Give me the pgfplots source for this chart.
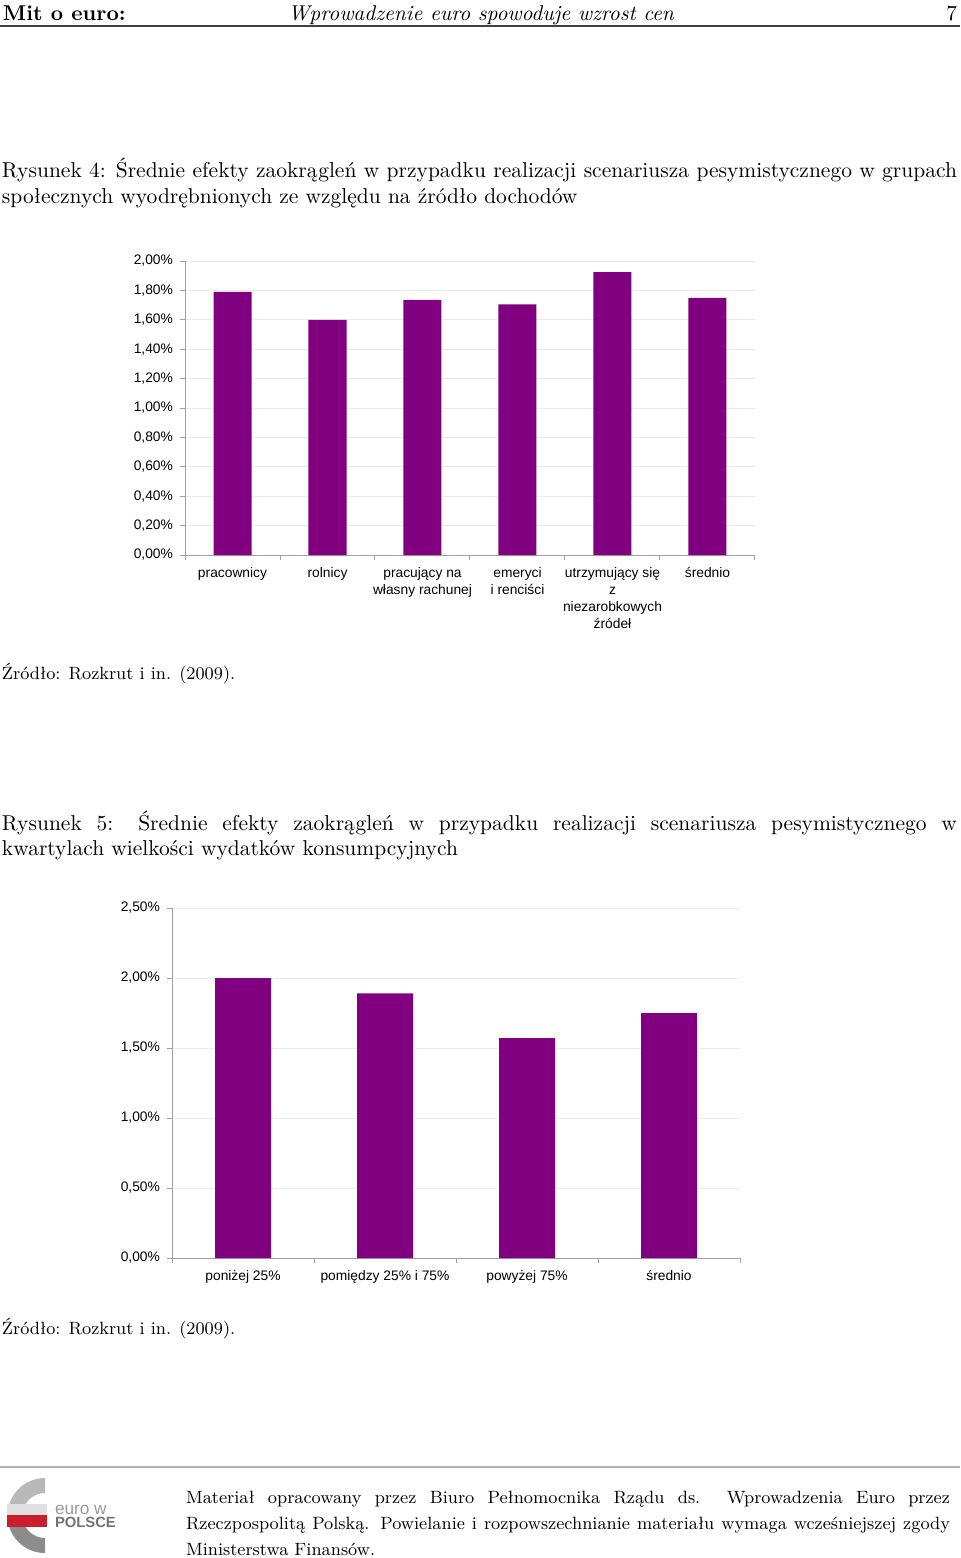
\documentclass[border=0pt]{standalone}
\usepackage{fontspec}
\usepackage{pgfplots}
\pgfplotsset{compat=1.18}
\newfontfamily\chartfont{Liberation Sans}
\definecolor{barpurple}{RGB}{128,0,128}
\definecolor{axisgray}{RGB}{160,160,160}
\definecolor{gridgray}{RGB}{235,235,235}
\definecolor{logored}{RGB}{200,30,45}

\newcommand{\capfont}{\fontsize{10.75}{12}\selectfont}
\newcommand{\smallfont}{\fontsize{8.9}{10}\selectfont}
\newcommand{\headfont}{\fontsize{10.7}{12}\selectfont}
\newcommand{\chartsize}{\fontsize{6.9}{8.5}\selectfont}

\pgfplotsset{
  purplebars/.style={
    scale only axis,
    ybar, bar shift=0pt,
    axis x line*=bottom, axis y line*=left,
    axis line style={axisgray, line width=0.5pt, -},
    ymin=0,
    ymajorgrids, grid style={gridgray, line width=0.5pt},
    tick align=outside, major tick length=2.5pt,
    tick style={axisgray, line width=0.5pt},
    x tick label as interval,
    /pgf/number format/assume math mode=true,
    yticklabel={\pgfmathprintnumber[fixed,fixed zerofill,precision=2,use comma]{\tick}\%},
    tick label style={font=\chartfont\chartsize, text=black},
    xticklabel style={align=center},
  }
}

\begin{document}
\begin{tikzpicture}[x=0.5pt,y=0.5pt,txt/.style={inner sep=0pt,outer sep=0pt}]
\useasboundingbox (0,0) rectangle (960,-1558);

% header
\node[txt, anchor=base west, font=\headfont\bfseries] at (3,-20) {Mit o euro:};
\node[txt, anchor=base, font=\headfont\itshape] at (481,-20) {Wprowadzenie euro spowoduje wzrost cen};
\node[txt, anchor=base east, font=\headfont] at (957,-20) {7};
\draw[line width=0.8pt, black!75] (0,-26) -- (960,-26);

% figure 4
\node[txt, anchor=base west, font=\capfont] at (2,-177)
  {\makebox[477.5pt][s]{Rysunek 4: Średnie efekty zaokrągleń w przypadku realizacji scenariusza pesymistycznego w grupach}};
\node[txt, anchor=base west, font=\capfont] at (2,-203)
  {społecznych wyodrębnionych ze względu na źródło dochodów};

\begin{axis}[purplebars, at={(92.5pt,-277.5pt)}, anchor=south west,
  width=285pt, height=147pt, bar width=19pt,
  xmin=-0.5, xmax=5.5, ymax=2.0, ytick distance=0.2,
  xtick={-0.5,0.5,...,5.5},
  xticklabels={pracownicy, rolnicy, {pracujący na\\własny rachunej}, {emeryci\\i renciści},
    {utrzymujący się\\z\\niezarobkowych\\źródeł}, średnio}]
\addplot[fill=barpurple, draw=none] coordinates {(0,1.79)(1,1.60)(2,1.735)(3,1.705)(4,1.925)(5,1.75)};
\end{axis}

\node[txt, anchor=base west, font=\smallfont] at (2,-679) {Źródło: Rozkrut i in. (2009).};

% figure 5
\node[txt, anchor=base west, font=\capfont] at (2,-830)
  {\makebox[477.5pt][s]{Rysunek 5: Średnie efekty zaokrągleń w przypadku realizacji scenariusza pesymistycznego w}};
\node[txt, anchor=base west, font=\capfont] at (2,-855)
  {kwartylach wielkości wydatków konsumpcyjnych};

\begin{axis}[purplebars, at={(86pt,-629pt)}, anchor=south west,
  width=284pt, height=175pt, bar width=28pt,
  xmin=-0.5, xmax=3.5, ymax=2.5, ytick distance=0.5,
  xtick={-0.5,0.5,...,3.5},
  xticklabels={poniżej 25\%, pomiędzy 25\% i 75\%, powyżej 75\%, średnio}]
\addplot[fill=barpurple, draw=none] coordinates {(0,2.00)(1,1.89)(2,1.57)(3,1.75)};
\end{axis}

\node[txt, anchor=base west, font=\smallfont] at (2,-1334) {Źródło: Rozkrut i in. (2009).};

% footer
\draw[line width=0.6pt, black!30] (0,-1467) -- (960,-1467);
\begin{scope}
\clip (0,-1478) rectangle (50,-1515);
\fill[black!28] (45,-1478) arc[start angle=90,end angle=270,radius=37.5] -- ++(0,15)
  arc[start angle=270,end angle=90,radius=22.5] -- cycle;
\end{scope}
\begin{scope}
\clip (0,-1515) rectangle (50,-1560);
\fill[black!45] (45,-1478) arc[start angle=90,end angle=270,radius=37.5] -- ++(0,15)
  arc[start angle=270,end angle=90,radius=22.5] -- cycle;
\end{scope}
\fill[black!12] (7,-1504) rectangle (47,-1514.5);
\fill[logored] (7,-1514.5) rectangle (47,-1527);
\node[txt, anchor=base west, font=\chartfont\fontsize{8.6}{9}\selectfont, text=black!40] at (55,-1514) {euro w};
\node[txt, anchor=base west, font=\chartfont\bfseries\fontsize{7.4}{8}\selectfont, text=black!55] at (55,-1527) {POLSCE};

\node[txt, anchor=base west, font=\smallfont] at (186,-1503)
  {\makebox[382pt][s]{Materiał opracowany przez Biuro Pełnomocnika Rządu ds.\ \ Wprowadzenia Euro przez}};
\node[txt, anchor=base west, font=\smallfont] at (186,-1529)
  {\makebox[382pt][s]{Rzeczpospolitą Polską. Powielanie i rozpowszechnianie materiału wymaga wcześniejszej zgody}};
\node[txt, anchor=base west, font=\smallfont] at (186,-1555) {Ministerstwa Finansów.};
\end{tikzpicture}
\end{document}
